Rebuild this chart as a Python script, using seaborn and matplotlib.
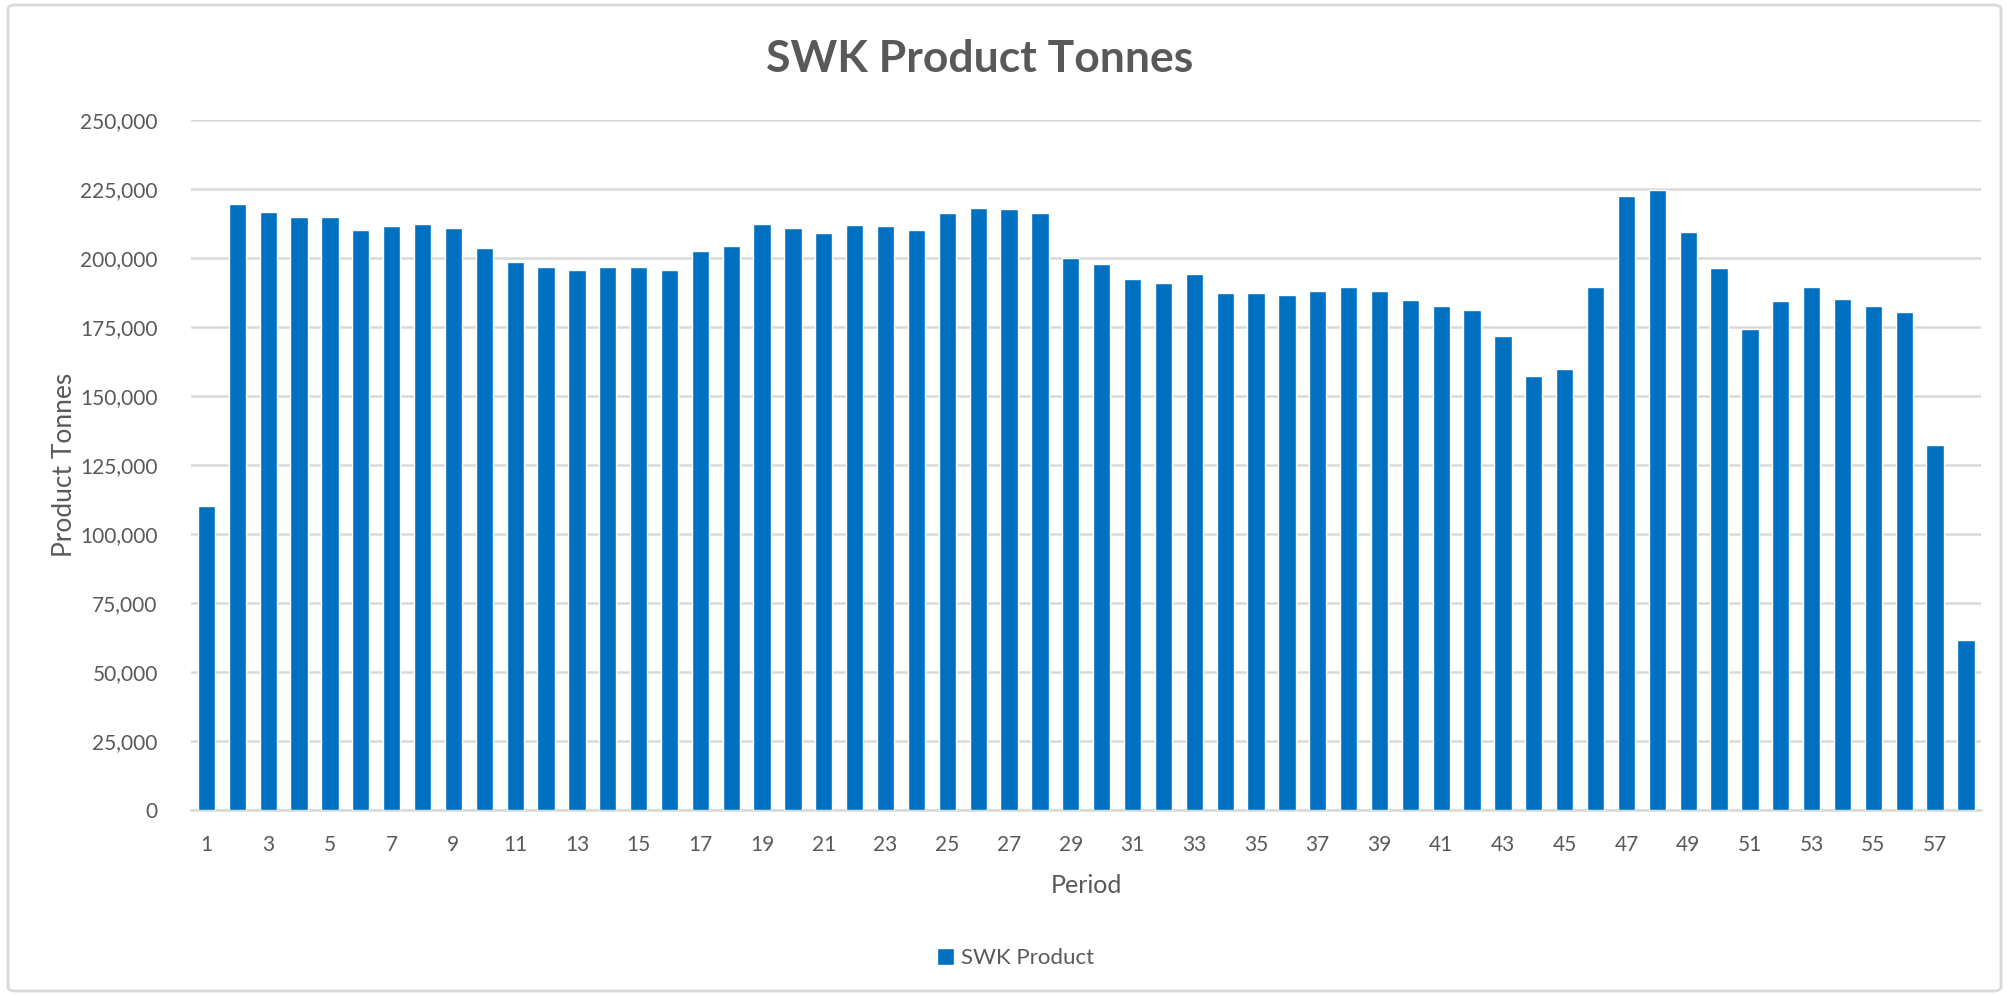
import matplotlib
matplotlib.use("Agg")
import matplotlib.pyplot as plt
import matplotlib.ticker as mticker
from matplotlib.patches import FancyBboxPatch
import seaborn as sns
import pandas as pd
import numpy as np

# --- dati ---
periods = list(range(1, 59))
tonnes = [
    110100, 219800, 216900, 215000, 215000, 210100, 211600, 212500, 211100, 203800,
    198600, 196700, 195800, 196700, 196700, 195800, 202500, 204400, 212500, 211100,
    209300, 212000, 211600, 210100, 216400, 218300, 217800, 216400, 200100, 198100,
    192500, 191000, 194400, 187300, 187300, 186800, 188200, 189700, 188200, 184900,
    182600, 181100, 171900, 157500, 160000, 189700, 222700, 224600, 209700, 196300,
    174400, 184400, 189700, 185300, 182600, 180500, 132200, 61700,
]
series_name = "SWK Product"

df = pd.DataFrame({"Period": periods, "Tonnes": tonnes})

sns.set_theme(style="white")
plt.rcParams["font.family"] = ["Lato", "DejaVu Sans"]

grey_txt = "#595959"
grid_col = "#d9d9d9"
bar_col = "#0070C0"

fig = plt.figure(figsize=(20.11, 9.96), dpi=100)
ax = fig.add_axes([0.095, 0.1867, 0.8903, 0.6925])

sns.barplot(data=df, x="Period", y="Tonnes", color=bar_col, width=0.56,
            saturation=1, label=series_name, ax=ax, zorder=3)

ax.set_ylim(0, 250000)
ax.set_xlim(-0.5, len(periods) - 0.5)
ax.yaxis.set_major_locator(mticker.MultipleLocator(25000))
ax.yaxis.set_major_formatter(mticker.FuncFormatter(lambda v, p: f"{v:,.0f}"))
ax.grid(axis="y", color=grid_col, linewidth=1.8, zorder=0)

# etichette x solo sui periodi dispari
ax.set_xticks(range(len(periods)))
ax.set_xticklabels([str(p) if p % 2 == 1 else "" for p in periods])
ax.set_xticks(np.arange(-0.5, len(periods)), minor=True)
ax.tick_params(axis="x", which="major", length=0, pad=18, labelsize=15, colors=grey_txt)
ax.tick_params(axis="x", which="minor", length=8, width=1.5, color=grid_col, direction="out")
ax.tick_params(axis="y", length=0, pad=24, labelsize=15, colors=grey_txt)

for s in ["top", "right", "left"]:
    ax.spines[s].set_visible(False)
ax.spines["bottom"].set_color(grid_col)
ax.spines["bottom"].set_linewidth(1.8)

ax.set_xlabel("Period", fontsize=18, color=grey_txt, labelpad=14)
ax.set_ylabel("Product Tonnes", fontsize=19, color=grey_txt, labelpad=2)
fig.text(0.487, 0.941, "SWK Product Tonnes", ha="center", va="center",
         fontsize=32, fontweight="bold", color=grey_txt)

ax.legend(loc="center", bbox_to_anchor=(0.505, 0.038), bbox_transform=fig.transFigure,
          frameon=False, fontsize=16, handlelength=0.75, handleheight=0.75,
          handletextpad=0.3, labelcolor=grey_txt)

# bordo esterno stile Excel
border = FancyBboxPatch((0.004, 0.005), 0.991, 0.99, boxstyle="round,pad=0,rounding_size=0.004",
                        transform=fig.transFigure, fill=False, edgecolor=grid_col, linewidth=2)
fig.patches.append(border)

fig.savefig("out.png", dpi=100)
